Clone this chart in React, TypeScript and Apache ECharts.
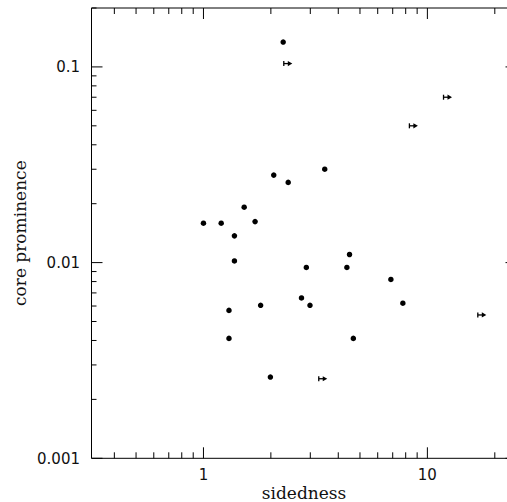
import React, { useEffect, useRef } from "react";
import * as echarts from "echarts";

// Detections: [sidedness, core prominence]
const detX = [2.27, 2.06, 2.39, 3.48, 1.52, 1.0, 1.2, 1.7, 1.375, 1.375, 4.49, 2.88, 4.37, 6.87, 1.3, 1.8, 2.74, 2.99, 7.77, 1.3, 4.67, 1.99];
const detY = [0.134, 0.028, 0.0257, 0.03, 0.0192, 0.0159, 0.0159, 0.0162, 0.0137, 0.0102, 0.011, 0.00945, 0.00945, 0.0082, 0.0057, 0.00605, 0.0066, 0.00605, 0.0062, 0.0041, 0.0041, 0.0026];

// Lower limits on sidedness (arrows pointing right)
const limX = [2.38, 12.3, 8.66, 3.41, 17.5];
const limY = [0.104, 0.07, 0.05, 0.00255, 0.0054];

// Axis extents
const X_MIN = Math.pow(10, -0.5);
const X_MAX = 25;
const Y_MIN = 0.001;
const Y_MAX = 0.2;

// Tick positions and labels
const xMajorTicks = [1, 10];
const xMinorTicks = [0.4, 0.5, 0.6, 0.7, 0.8, 0.9, 2, 3, 4, 5, 6, 7, 8, 9, 20];
const yMajorTicks = [0.001, 0.01, 0.1];
const yMinorTicks = [0.002, 0.003, 0.004, 0.005, 0.006, 0.007, 0.008, 0.009, 0.02, 0.03, 0.04, 0.05, 0.06, 0.07, 0.08, 0.09, 0.2];
const xTickLabels = ["1", "10"];
const yTickLabels = ["0.001", "0.01", "0.1"];

const X_TITLE = "sidedness";
const Y_TITLE = "core prominence";

export default function App() {
  const ref = useRef<HTMLDivElement>(null);

  useEffect(() => {
    if (!ref.current) return;
    const chart = echarts.init(ref.current, undefined, { renderer: "svg" });

    const xTickData = [
      ...xMajorTicks.map((v) => [v, Y_MIN, 1]),
      ...xMinorTicks.map((v) => [v, Y_MIN, 0]),
    ];
    const yTickData = [
      ...yMajorTicks.map((v) => [X_MIN, v, 1]),
      ...yMinorTicks.map((v) => [X_MIN, v, 0]),
    ];
    const xLabelData = xMajorTicks.map((v, i) => ({ value: [v, Y_MIN], name: xTickLabels[i] }));
    const yLabelData = yMajorTicks.map((v, i) => ({ value: [X_MIN, v], name: yTickLabels[i] }));

    const lineStyle = { stroke: "#000", lineWidth: 1 };

    const option: any = {
      animation: false,
      backgroundColor: "#fff",
      grid: {
        left: 91.5,
        top: 8,
        bottom: 43.7,
        right: -9.5,
        outerBoundsMode: "none",
        containLabel: false,
        show: true,
        borderColor: "#000",
        borderWidth: 1,
        backgroundColor: "transparent",
      },
      xAxis: {
        type: "log",
        logBase: 10,
        min: X_MIN,
        max: X_MAX,
        axisLine: { show: false },
        axisTick: { show: false },
        axisLabel: { show: false },
        splitLine: { show: false },
        minorTick: { show: false },
        name: X_TITLE,
        nameLocation: "middle",
        nameGap: 26,
        nameTextStyle: { fontFamily: "DejaVu Serif", fontSize: 17, color: "#111" },
      },
      yAxis: {
        type: "log",
        logBase: 10,
        min: Y_MIN,
        max: Y_MAX,
        axisLine: { show: false },
        axisTick: { show: false },
        axisLabel: { show: false },
        splitLine: { show: false },
        minorTick: { show: false },
        name: Y_TITLE,
        nameLocation: "middle",
        nameGap: 63.5,
        nameTextStyle: { fontFamily: "DejaVu Serif", fontSize: 17, color: "#111" },
      },
      series: [
        {
          type: "custom",
          clip: false,
          silent: true,
          data: xTickData,
          renderItem: (params: any, api: any) => {
            const x = api.value(0);
            const major = api.value(2);
            const len = major ? 11 : 6;
            const pb = api.coord([x, Y_MIN]);
            const pt = api.coord([x, Y_MAX]);
            return {
              type: "group",
              children: [
                { type: "line", shape: { x1: pb[0], y1: pb[1], x2: pb[0], y2: pb[1] - len }, style: lineStyle },
                { type: "line", shape: { x1: pt[0], y1: pt[1], x2: pt[0], y2: pt[1] + len }, style: lineStyle },
              ],
            };
          },
        },
        {
          type: "custom",
          clip: false,
          silent: true,
          data: yTickData,
          renderItem: (params: any, api: any) => {
            const y = api.value(1);
            const major = api.value(2);
            const len = major ? 11 : 5;
            const pl = api.coord([X_MIN, y]);
            const pr = api.coord([X_MAX, y]);
            return {
              type: "group",
              children: [
                { type: "line", shape: { x1: pl[0], y1: pl[1], x2: pl[0] + len, y2: pl[1] }, style: lineStyle },
                { type: "line", shape: { x1: pr[0], y1: pr[1], x2: pr[0] - len, y2: pr[1] }, style: lineStyle },
              ],
            };
          },
        },
        {
          type: "custom",
          clip: false,
          silent: true,
          data: xLabelData,
          renderItem: (params: any, api: any) => {
            const p = api.coord([api.value(0), Y_MIN]);
            return {
              type: "text",
              style: {
                text: xTickLabels[params.dataIndex],
                x: p[0],
                y: p[1] + 16.5,
                fill: "#111",
                fontFamily: "DejaVu Sans",
                fontSize: 15,
                align: "center",
                verticalAlign: "middle",
              },
            };
          },
        },
        {
          type: "custom",
          clip: false,
          silent: true,
          data: yLabelData,
          renderItem: (params: any, api: any) => {
            const p = api.coord([X_MIN, api.value(1)]);
            return {
              type: "text",
              style: {
                text: yTickLabels[params.dataIndex],
                x: p[0] - 11.5,
                y: p[1] + 0.5,
                fill: "#111",
                fontFamily: "DejaVu Sans",
                fontSize: 15,
                align: "right",
                verticalAlign: "middle",
              },
            };
          },
        },
        {
          type: "scatter",
          symbol: "circle",
          symbolSize: 5.5,
          itemStyle: { color: "#000", opacity: 1 },
          data: detX.map((x, i) => [x, detY[i]]),
        },
        {
          type: "custom",
          data: limX.map((x, i) => [x, limY[i]]),
          renderItem: (params: any, api: any) => {
            const p = api.coord([api.value(0), api.value(1)]);
            const cx = p[0];
            const cy = p[1];
            return {
              type: "group",
              children: [
                { type: "line", shape: { x1: cx - 4, y1: cy - 2.5, x2: cx - 4, y2: cy + 2.5 }, style: { stroke: "#000", lineWidth: 1.3 } },
                { type: "line", shape: { x1: cx - 4, y1: cy, x2: cx + 1, y2: cy }, style: { stroke: "#000", lineWidth: 1.3 } },
                { type: "polygon", shape: { points: [[cx, cy - 2.6], [cx + 4.5, cy], [cx, cy + 2.6]] }, style: { fill: "#000" } },
              ],
            };
          },
        },
      ],
    };

    chart.setOption(option);
    return () => chart.dispose();
  }, []);

  return (
    <div
      ref={ref}
      style={{ position: "absolute", left: 0, top: 0, width: 507, height: 502, overflow: "hidden", background: "#fff" }}
    />
  );
}
